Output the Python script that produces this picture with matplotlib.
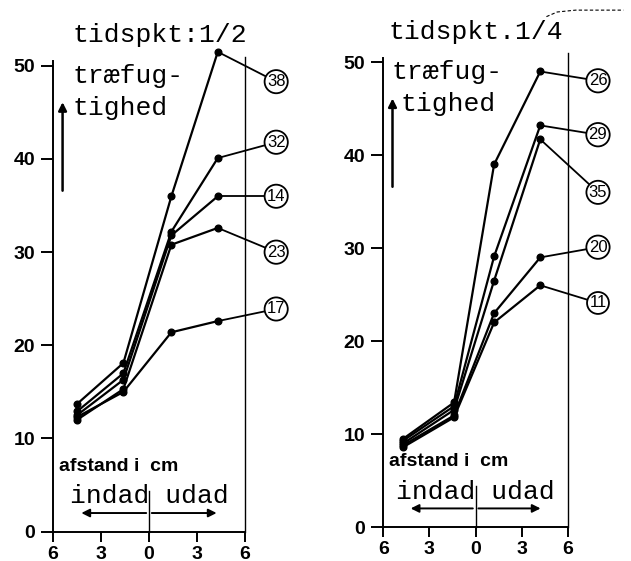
import matplotlib
matplotlib.use("Agg")
import matplotlib.pyplot as plt

# afstand (cm), negative = indad, positive = udad
x_left = [-4.5, -1.6, 1.4, 4.3]
x_right = [-4.7, -1.4, 1.2, 4.2]

# træfugtighed, tidspkt 1/2
left_ids = ['38', '32', '14', '23', '17']
left_vals = [
    [13.7, 18.1, 36.0, 51.5],
    [12.9, 17.0, 32.2, 40.1],
    [12.5, 16.3, 31.8, 36.0],
    [12.0, 15.3, 30.8, 32.6],
    [12.3, 15.0, 21.4, 22.6],
]
left_label_y = [48.3, 41.8, 36.0, 30.0, 23.9]

# træfugtighed, tidspkt 1/4
right_ids = ['26', '29', '35', '20', '11']
right_vals = [
    [9.5, 13.4, 39.0, 49.0],
    [9.3, 13.0, 29.1, 43.2],
    [9.0, 12.6, 26.5, 41.7],
    [8.8, 12.0, 23.0, 29.0],
    [8.6, 11.8, 22.0, 26.0],
]
right_label_y = [48.0, 42.2, 36.0, 30.1, 24.1]

yticks = [0, 10, 20, 30, 40, 50]
xticks = [-6, -3, 0, 3, 6]
xticklabels = ['6', '3', '0', '3', '6']

MONO = 'Liberation Mono'
SANS = 'Liberation Sans'

fig = plt.figure(figsize=(6.31, 5.61), dpi=100)


def draw_panel(ax, xs, vals, ids, label_y, title, title_x, word_x, tighed_x):
    ax.set_xlim(-7, 9.5)
    ax.set_ylim(-1, 55)
    ax.spines['top'].set_visible(False)
    ax.spines['left'].set_position(('data', -6))
    ax.spines['left'].set_bounds(0, 50.5)
    ax.spines['right'].set_position(('data', 6))
    ax.spines['right'].set_bounds(0, 51)
    ax.spines['bottom'].set_position(('data', 0))
    ax.spines['bottom'].set_bounds(-6, 6)
    for s in ['left', 'bottom']:
        ax.spines[s].set_linewidth(1.4)
    ax.spines['right'].set_linewidth(1.0)

    ax.set_yticks(yticks)
    ax.set_yticklabels([str(t) for t in yticks], fontfamily=SANS,
                       fontweight='bold', fontsize=14)
    ax.set_xticks(xticks)
    ax.set_xticklabels(xticklabels, fontfamily=SANS, fontweight='bold', fontsize=14)
    ax.tick_params(axis='y', direction='out', length=9, width=1.4, pad=4)
    ax.tick_params(axis='x', direction='out', length=7, width=1.4, pad=3)
    ax.tick_params(axis='y', right=False)

    for v, name, ly in zip(vals, ids, label_y):
        ax.plot(xs, v, color='black', lw=1.6, marker='o', ms=4.8,
                mfc='black', mec='black', zorder=3)
        ax.plot([xs[-1], 7.95], [v[-1], ly], color='black', lw=1.3, zorder=2)
        ax.text(7.95, ly, name, ha='center', va='center', fontsize=12,
                fontfamily=SANS, zorder=5,
                bbox=dict(boxstyle='circle,pad=0.14', fc='white', ec='black', lw=1.3))

    ax.text(title_x, 53.3, title, ha='center', va='center', fontsize=19,
            fontfamily=MONO)
    ax.text(word_x, 48.9, 'træfug-', ha='left', va='center', fontsize=19,
            fontfamily=MONO)
    ax.text(tighed_x, 45.5, 'tighed', ha='left', va='center', fontsize=19,
            fontfamily=MONO)
    ax.annotate('', xy=(-5.4, 46.4), xytext=(-5.4, 36.3),
                arrowprops=dict(arrowstyle='-|>', lw=1.8, color='black',
                                mutation_scale=12))

    ax.text(-5.6, 7.0, 'afstand i  cm', ha='left', va='center', fontsize=14,
            fontfamily=SANS, fontweight='bold')
    ax.text(0, 3.8, 'indad udad', ha='center', va='center', fontsize=19,
            fontfamily=MONO)
    ax.plot([0, 0], [0, 4.4], color='black', lw=1.0)
    ax.annotate('', xy=(-4.4, 2.0), xytext=(0, 2.0),
                arrowprops=dict(arrowstyle='-|>', lw=1.4, color='black',
                                mutation_scale=12))
    ax.annotate('', xy=(4.4, 2.0), xytext=(0, 2.0),
                arrowprops=dict(arrowstyle='-|>', lw=1.4, color='black',
                                mutation_scale=12))


ax1 = fig.add_axes([0.0586, 0.0357, 0.4184, 0.930])
draw_panel(ax1, x_left, left_vals, left_ids, left_label_y,
           'tidspkt:1/2', 0.7, -4.8, -4.8)

ax2 = fig.add_axes([0.583, 0.044, 0.4025, 0.928])
draw_panel(ax2, x_right, right_vals, right_ids, right_label_y,
           'tidspkt.1/4', 0.0, -5.45, -4.9)

# faint dashed pencil stroke above the right panel
ax2.plot([4.6, 5.3, 6.5, 9.6], [54.9, 55.4, 55.6, 55.6], color='black',
         lw=0.8, ls=(0, (3, 2)), clip_on=False)

fig.savefig('out.png', dpi=100)
